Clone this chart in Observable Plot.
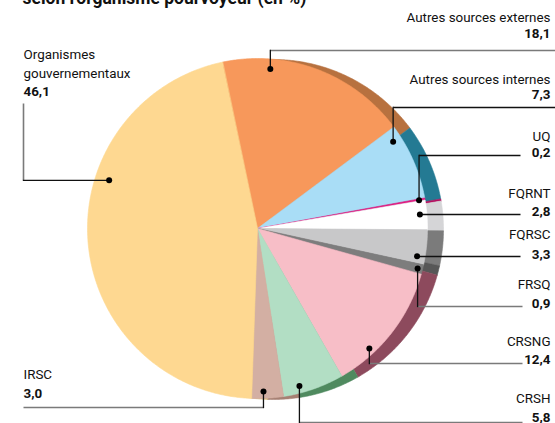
<!DOCTYPE html>
<html>
<head>
<meta charset="utf-8">
<script src="https://cdn.jsdelivr.net/npm/d3@7"></script>
<script src="https://cdn.jsdelivr.net/npm/@observablehq/plot@0.6"></script>
<style>
  html, body { margin: 0; padding: 0; background: #fff; }
  #chart svg { display: block; }
</style>
</head>
<body>
<div id="chart"></div>
<script>
// ---- Data ----
const title = "selon l'organisme pourvoyeur (en %)";
const categories = ["Autres sources externes", "Autres sources internes", "UQ", "FQRNT", "FQRSC", "FRSQ", "CRSNG", "CRSH", "IRSC", "Organismes gouvernementaux"];
const values = [18.1, 7.3, 0.2, 2.8, 3.3, 0.9, 12.4, 5.8, 3.0, 46.1];
const valueLabels = ["18,1", "7,3", "0,2", "2,8", "3,3", "0,9", "12,4", "5,8", "3,0", "46,1"];
const nameLines = [["Autres sources externes"], ["Autres sources internes"], ["UQ"], ["FQRNT"], ["FQRSC"], ["FRSQ"], ["CRSNG"], ["CRSH"], ["IRSC"], ["Organismes", "gouvernementaux"]];

// ---- Styles ----
const faceColors = ["#f7985b", "#a9ddf6", "#e2187e", "#ffffff", "#c8c8c9", "#7d7d7d", "#f7bec7", "#b2dec4", "#d3afa3", "#fed891"];
const rimColors  = ["#b7713f", "#247a93", "#b5105f", "#d5d5d7", "#7b7b7b", "#575757", "#8d4a5d", "#4f8a5f", "#a68073", "#d8b46f"];

// ---- Layout (pixels) ----
const W = 555, H = 423;
const cx = 257, cy = 228, R = 170;
const rimDx = 16, rimDy = 1;
const startDeg = -11.9;
// label layout: text anchor, baselines, dot polar position, leader path
const layout = [
  {anchor: "end",   tx: 550, nameY: [21],     valY: 37,  dotA: 4.6,   dotR: 160, mode: "v", lineY: 50,  endX: 555, tail: "#7a7a7a"},
  {anchor: "end",   tx: 550, nameY: [83],     valY: 98,  dotA: 57.4,  dotR: 161, mode: "v", lineY: 107, endX: 555, tail: "#111"},
  {anchor: "end",   tx: 550, nameY: [140],    valY: 156, dotA: 80.1,  dotR: 164, mode: "v", lineY: 155, endX: 520, tail: "#111"},
  {anchor: "end",   tx: 550, nameY: [197],    valY: 215, dotA: 85.1,  dotR: 163, mode: "v", lineY: 214, endX: 520, tail: "#111"},
  {anchor: "end",   tx: 550, nameY: [238],    valY: 258, dotA: 99.9,  dotR: 162, mode: "v", lineY: 256, endX: 520, tail: "#111"},
  {anchor: "end",   tx: 550, nameY: [288],    valY: 307, dotA: 104.0, dotR: 165, mode: "v", lineY: 306, endX: 522, tail: "#7a7a7a"},
  {anchor: "end",   tx: 550, nameY: [345],    valY: 363, dotA: 137.0, dotR: 164, mode: "v", lineY: 363, endX: 522, tail: "#7a7a7a"},
  {anchor: "end",   tx: 550, nameY: [402],    valY: 421, dotA: 165.1, dotR: 163, mode: "v", lineY: 422, endX: 522, tail: "#7a7a7a"},
  {anchor: "start", tx: 23,  nameY: [378],    valY: 397, dotA: 177.9, dotR: 163, mode: "v", lineY: 407, endX: 23,  tail: "#7a7a7a"},
  {anchor: "start", tx: 23,  nameY: [58, 77], valY: 95,  dotA: 288.0, dotR: 156, mode: "h", lineX: 23, endY: 103, tail: "#7a7a7a"}
];

const rad = d => d * Math.PI / 180;
const pt = (ox, oy, r, a) => ({x: ox + r * Math.sin(a), y: oy - r * Math.cos(a)});

const rows = categories.map((c, i) => ({cat: c, v: values[i], i}));
const arcs = d3.pie().sort(null).value(d => d.v)
  .startAngle(rad(startDeg)).endAngle(rad(startDeg) + 2 * Math.PI)(rows);

function slicePolys(ox, oy, colors, prefix) {
  const out = [];
  for (const a of arcs) {
    const key = prefix + a.data.i;
    const col = colors[a.data.i];
    out.push({key, col, ...pt(ox, oy, 0, 0)});
    const n = Math.max(2, Math.ceil((a.endAngle - a.startAngle) / rad(0.5)));
    for (let k = 0; k <= n; k++) {
      const t = a.startAngle + (a.endAngle - a.startAngle) * k / n;
      out.push({key, col, ...pt(ox, oy, R, t)});
    }
  }
  return out;
}
const rimPts = slicePolys(cx + rimDx, cy + rimDy, rimColors, "rim");
const facePts = slicePolys(cx, cy, faceColors, "face");

// dots and leader lines
const dots = layout.map((L, i) => ({i, ...pt(cx, cy, L.dotR, rad(L.dotA))}));
const headSeg = [], tailSeg = [];
layout.forEach((L, i) => {
  const d = dots[i];
  let corner, end;
  if (L.mode === "v") { corner = {x: d.x, y: L.lineY}; end = {x: L.endX, y: L.lineY}; }
  else { corner = {x: L.lineX, y: d.y}; end = {x: L.lineX, y: L.endY}; }
  headSeg.push({k: i, x: d.x, y: d.y}, {k: i, x: corner.x, y: corner.y});
  tailSeg.push({k: i, col: L.tail, x: corner.x, y: corner.y}, {k: i, col: L.tail, x: end.x, y: end.y});
});

// texts
const nameTexts = [], valTexts = [];
layout.forEach((L, i) => {
  nameLines[i].forEach((s, j) => nameTexts.push({s, x: L.tx, y: L.nameY[j], anchor: L.anchor}));
  valTexts.push({s: valueLabels[i], x: L.tx, y: L.valY, anchor: L.anchor});
});

const font = "Roboto, 'Liberation Sans', sans-serif";
const textMarks = (arr, weight) => ["start", "end"].map(anc =>
  Plot.text(arr.filter(d => d.anchor === anc), {
    x: "x", y: "y", text: "s", textAnchor: anc, lineAnchor: "bottom",
    fontSize: 13.4, fontWeight: weight, fill: "#111", fontFamily: font
  }));

const chart = Plot.plot({
  width: W, height: H, margin: 0,
  x: {domain: [0, W], range: [0, W], axis: null},
  y: {domain: [0, H], range: [0, H], axis: null},
  color: {type: "identity"},
  style: {fontFamily: font, background: "#fff"},
  marks: [
    Plot.line(rimPts, {x: "x", y: "y", z: "key", fill: "col", stroke: "col", strokeWidth: 0.6, curve: "linear-closed"}),
    Plot.line(facePts, {x: "x", y: "y", z: "key", fill: "col", stroke: "col", strokeWidth: 0.6, curve: "linear-closed"}),
    Plot.line(tailSeg, {x: "x", y: "y", z: "k", stroke: "col", strokeWidth: 1.6, strokeLinecap: "butt"}),
    Plot.line(headSeg, {x: "x", y: "y", z: "k", stroke: "#111", strokeWidth: 1.3, strokeLinecap: "square"}),
    Plot.dot(dots, {x: "x", y: "y", r: 3, fill: "#000", stroke: null}),
    ...textMarks(nameTexts, "normal"),
    ...textMarks(valTexts, "bold"),
    Plot.text([title], {frameAnchor: "top-left", dx: 22, dy: 3.5, lineAnchor: "bottom", fontSize: 17.5, fontWeight: "bold", fill: "#111", fontFamily: font})
  ]
});
document.getElementById("chart").appendChild(chart);
</script>
</body>
</html>
